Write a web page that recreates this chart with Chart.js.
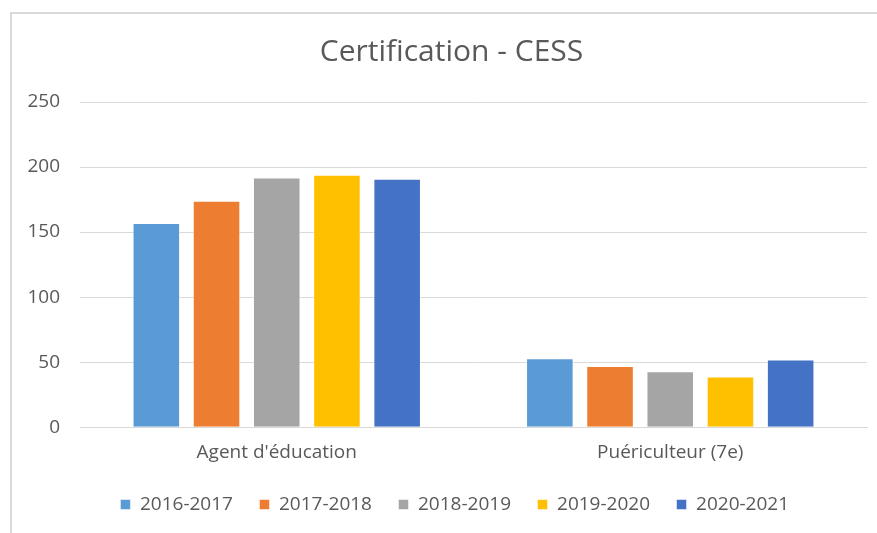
<!DOCTYPE html>
<html>
<head>
<meta charset="utf-8">
<script src="https://cdn.jsdelivr.net/npm/chart.js@4"></script>
<style>
  html, body { margin: 0; padding: 0; background: #fff; overflow: hidden; }
  #frame {
    position: absolute; left: 10px; top: 12px; width: 920px; height: 600px;
    border-left: 2px solid #d9d9d9; border-top: 2px solid #d9d9d9;
  }
  #wrap { position: absolute; left: 0; top: 0; width: 903px; height: 533px; }
</style>
</head>
<body>
<div id="frame"></div>
<div id="wrap"><canvas id="chart"></canvas></div>
<script>
const categories = ["Agent d'éducation", 'Puériculteur (7e)'];
const years = ['2016-2017', '2017-2018', '2018-2019', '2019-2020', '2020-2021'];
const values2016 = [157, 53];
const values2017 = [174, 47];
const values2018 = [192, 43];
const values2019 = [194, 39];
const values2020 = [191, 52];
const yTicks = [0, 50, 100, 150, 200, 250];
const colors = ['#5B9BD5', '#ED7D31', '#A5A5A5', '#FFC000', '#4472C4'];

const series = [values2016, values2017, values2018, values2019, values2020];
const textColor = '#595959';
const font = 'Open Sans';

// nudges the legend row a bit to the right, like the Excel original
const legendShift = {
    id: 'legendShift',
    afterLayout(chart) {
        chart.legend.left += 8;
        chart.legend.right += 8;
    }
};

const ctx = document.getElementById('chart').getContext('2d');
new Chart(ctx, {
    type: 'bar',
    data: {
        labels: categories,
        datasets: series.map((vals, i) => ({
            label: years[i],
            data: vals,
            backgroundColor: colors[i],
            borderColor: 'rgba(255,255,255,0.5)',
            borderWidth: 1,
            categoryPercentage: 0.765,
            barPercentage: 0.79
        }))
    },
    plugins: [legendShift],
    options: {
        responsive: true,
        maintainAspectRatio: false,
        animation: false,
        layout: { padding: { left: 0, right: 0, top: 0, bottom: 9 } },
        plugins: {
            title: {
                display: true,
                text: 'Certification - CESS',
                color: textColor,
                font: { family: font, size: 30, weight: 'normal' },
                padding: { top: 34, bottom: 32 }
            },
            legend: {
                position: 'bottom',
                labels: {
                    color: textColor,
                    font: { family: font, size: 19 },
                    boxWidth: 10,
                    boxHeight: 10,
                    padding: 17,
                    generateLabels: (chart) =>
                        Chart.defaults.plugins.legend.labels.generateLabels(chart)
                            .map(l => ({ ...l, text: l.text + '\u2002' }))
                }
            },
            tooltip: { enabled: false }
        },
        scales: {
            x: {
                grid: { display: false, drawTicks: false },
                border: { color: '#d9d9d9', width: 1 },
                ticks: {
                    color: textColor,
                    font: { family: font, size: 19 },
                    padding: 14
                }
            },
            y: {
                min: 0,
                max: yTicks[yTicks.length - 1],
                afterBuildTicks: (scale) => {
                    scale.ticks = yTicks.map(v => ({ value: v }));
                },
                afterFit: (scale) => { scale.width = 80; },
                grid: { color: '#d9d9d9', lineWidth: 1, drawTicks: false },
                border: { display: false },
                ticks: {
                    color: textColor,
                    font: { family: font, size: 19 },
                    padding: 20
                }
            },
            // empty right-hand axis so the plot ends where the original does
            yRight: {
                position: 'right',
                display: true,
                grid: { display: false, drawTicks: false },
                border: { display: false },
                ticks: { display: false },
                afterFit: (scale) => { scale.width = 36; }
            }
        }
    }
});
</script>
</body>
</html>
